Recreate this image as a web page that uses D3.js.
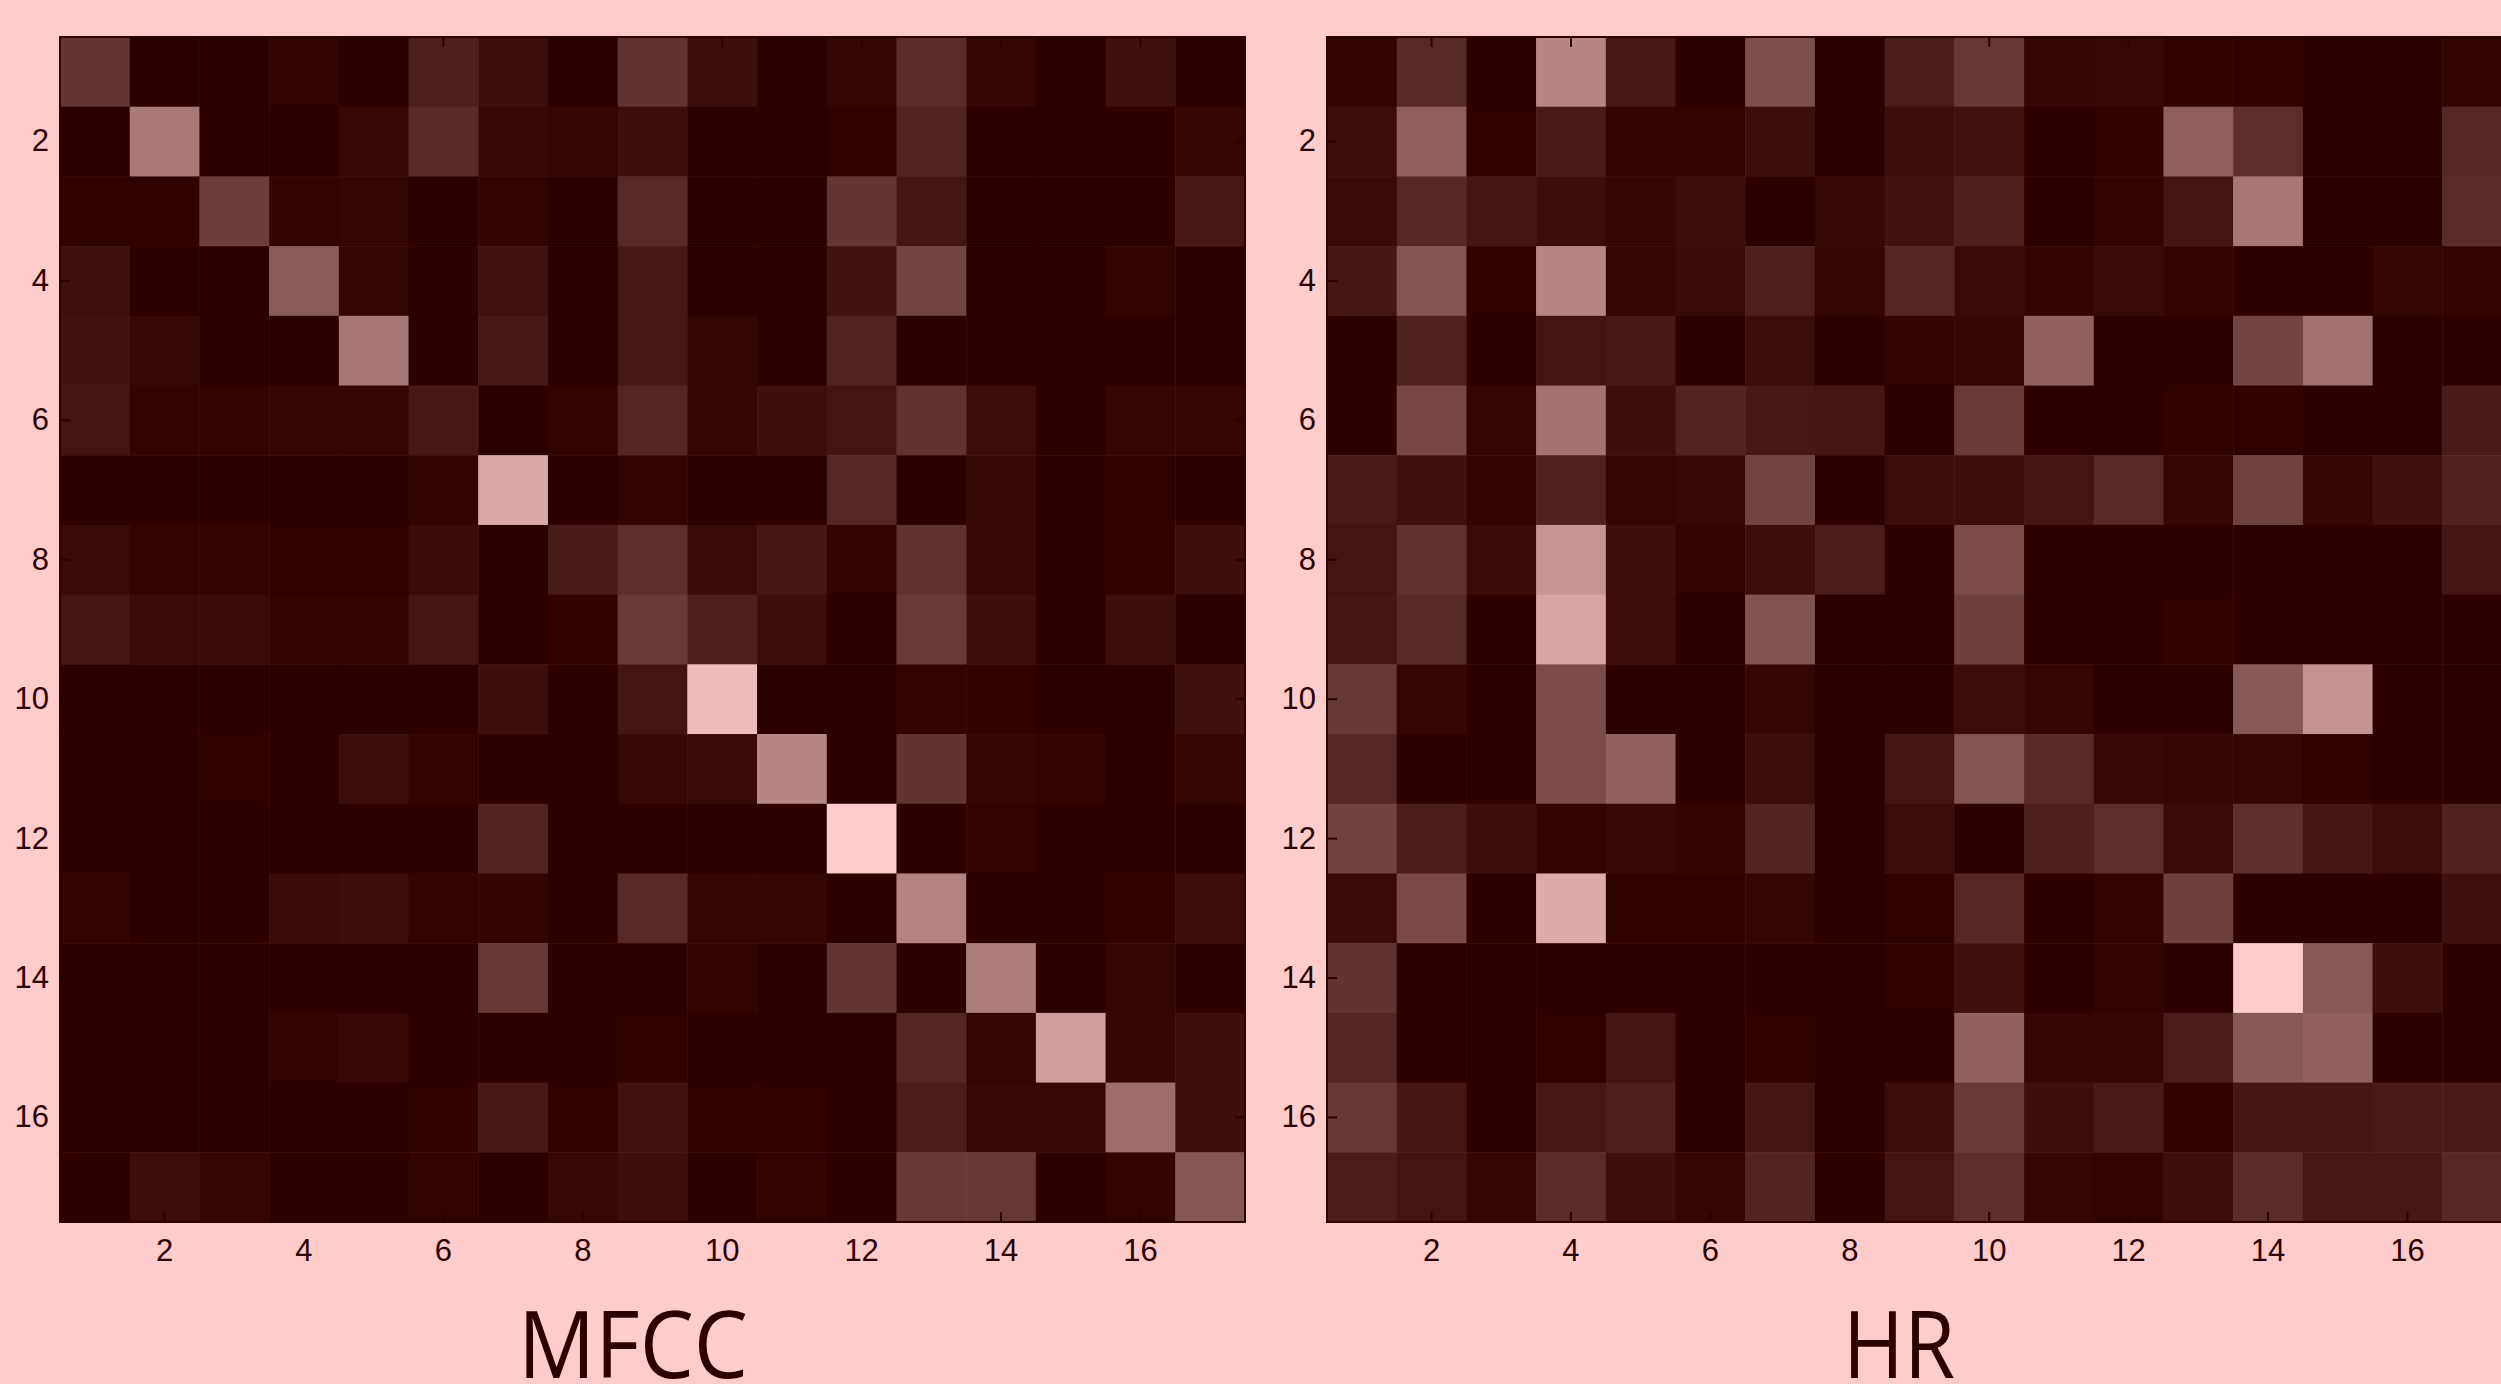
<!DOCTYPE html>
<html>
<head>
<meta charset="utf-8">
<script src="https://cdn.jsdelivr.net/npm/d3@7"></script>
<style>
  html, body { margin: 0; padding: 0; background: #ffcccc; }
  svg { display: block; }
  .tick text { font-family: "Liberation Sans", Arial, sans-serif; font-size: 31px; fill: #2d0000; }
  .tick line { stroke: #2d0000; stroke-width: 2; }
  .title { font-family: "Open Sans", sans-serif; font-size: 94px; fill: #2d0000; }
</style>
</head>
<body>
<svg width="2501" height="1384"></svg>
<script>
// 17 classes, rows = true, columns = predicted (values 0..1)
var labels = d3.range(1, 18);
var tickLabels = [2, 4, 6, 8, 10, 12, 14, 16];

var mfcc = [
  [0.26,0,0,0.02,0,0.15,0.07,0,0.25,0.07,0,0.03,0.21,0.03,0,0.08,0],
  [0,0.59,0,0,0.04,0.20,0.04,0.03,0.07,0,0,0.01,0.17,0,0,0,0.03],
  [0.01,0.01,0.30,0.02,0.03,0,0.02,0,0.20,0,0,0.26,0.11,0,0,0,0.12],
  [0.08,0,0,0.44,0.03,0,0.09,0,0.12,0,0,0.09,0.33,0,0,0.02,0],
  [0.09,0.04,0,0,0.58,0,0.12,0,0.12,0.03,0,0.17,0,0,0,0,0],
  [0.10,0.02,0.02,0.03,0.03,0.12,0,0.02,0.18,0.03,0.07,0.10,0.24,0.06,0,0.03,0.03],
  [0,0,0,0,0,0.02,0.83,0,0.02,0,0,0.19,0,0.04,0,0.01,0],
  [0.05,0.02,0.02,0.01,0.01,0.05,0,0.13,0.22,0.05,0.11,0.02,0.24,0.04,0,0.01,0.07],
  [0.10,0.05,0.05,0.02,0.02,0.11,0,0.01,0.28,0.15,0.07,0,0.28,0.07,0,0.07,0],
  [0,0,0,0,0,0,0.07,0,0.10,0.92,0,0,0.02,0.01,0,0,0.08],
  [0,0,0.01,0,0.07,0.02,0,0,0.04,0.05,0.65,0,0.25,0.03,0.02,0,0.03],
  [0,0,0,0,0,0,0.17,0,0,0,0,1.00,0,0.02,0,0,0],
  [0.02,0,0,0.05,0.06,0.02,0.02,0,0.20,0.03,0.03,0,0.64,0,0,0.01,0.06],
  [0,0,0,0,0,0,0.27,0,0,0.02,0,0.26,0,0.61,0,0.03,0],
  [0,0,0,0.02,0.04,0,0,0,0.01,0,0,0,0.18,0.03,0.77,0.03,0.07],
  [0,0,0,0,0,0.01,0.12,0.01,0.09,0.01,0.01,0,0.14,0.04,0.04,0.54,0.07],
  [0,0.06,0.03,0,0,0.02,0,0.04,0.07,0,0.02,0,0.27,0.27,0,0.02,0.42]
];

var hr = [
  [0.02,0.20,0,0.65,0.12,0,0.38,0,0.14,0.27,0.03,0.04,0.01,0.01,0,0,0.02],
  [0.06,0.46,0.01,0.13,0.02,0.02,0.07,0,0.07,0.09,0,0.01,0.46,0.22,0,0,0.19],
  [0.05,0.19,0.11,0.06,0.03,0.06,0,0.04,0.09,0.15,0,0.02,0.10,0.58,0,0,0.21],
  [0.11,0.41,0.01,0.65,0.03,0.05,0.15,0.03,0.18,0.05,0.02,0.05,0.02,0,0,0.03,0.02],
  [0,0.16,0,0.10,0.12,0,0.06,0,0.02,0.03,0.48,0,0,0.33,0.55,0,0],
  [0,0.35,0.03,0.56,0.07,0.17,0.12,0.11,0,0.28,0,0,0.01,0.01,0,0,0.13],
  [0.13,0.08,0.02,0.16,0.03,0.04,0.33,0,0.06,0.06,0.10,0.20,0.03,0.32,0.03,0.08,0.16],
  [0.10,0.24,0.05,0.73,0.07,0.02,0.07,0.14,0,0.37,0,0,0,0,0,0,0.10],
  [0.11,0.20,0,0.81,0.07,0,0.40,0,0,0.31,0,0,0.01,0,0,0,0],
  [0.27,0.03,0,0.37,0,0,0.03,0,0,0.06,0.03,0,0,0.43,0.72,0,0],
  [0.19,0,0,0.37,0.47,0,0.06,0,0.10,0.41,0.20,0.04,0.03,0.03,0.01,0,0],
  [0.32,0.14,0.07,0.02,0.04,0.02,0.17,0,0.06,0,0.15,0.22,0.05,0.23,0.11,0.06,0.16],
  [0.05,0.36,0,0.84,0.01,0.01,0.03,0,0.01,0.19,0,0.02,0.31,0,0,0,0.08],
  [0.25,0,0,0,0,0,0,0,0.01,0.08,0,0.02,0,1.00,0.43,0.07,0],
  [0.18,0,0,0.01,0.10,0,0.01,0,0,0.48,0.03,0.03,0.14,0.43,0.47,0,0],
  [0.27,0.11,0,0.12,0.15,0,0.11,0,0.06,0.28,0.07,0.13,0.01,0.11,0.11,0.13,0.13],
  [0.14,0.10,0.03,0.21,0.07,0.03,0.17,0,0.10,0.22,0.03,0.02,0.07,0.21,0.12,0.12,0.19]
];

var panels = [
  {name: "MFCC", data: mfcc, left: 60, titleX: 633, titleW: 230},
  {name: "HR", data: hr, left: 1327, titleX: 1899, titleW: 112}
];

var top0 = 37;
var size = 1185;
var tickLen = 10;

var color = d3.scaleLinear().domain([0, 1]).range(["#2d0000", "#ffcccc"]);

var svg = d3.select("svg");

panels.forEach(function(p) {
  var x = d3.scaleBand().domain(labels).range([0, size]);
  var y = d3.scaleBand().domain(labels).range([0, size]);

  var g = svg.append("g").attr("transform", "translate(" + p.left + "," + top0 + ")");

  // cells
  var cells = [];
  p.data.forEach(function(row, i) {
    row.forEach(function(v, j) {
      cells.push({r: labels[i], c: labels[j], v: v});
    });
  });

  g.selectAll("rect.cell")
    .data(cells)
    .enter().append("rect")
      .attr("class", "cell")
      .attr("x", function(d) { return x(d.c); })
      .attr("y", function(d) { return y(d.r); })
      .attr("width", x.bandwidth() + 0.5)
      .attr("height", y.bandwidth() + 0.5)
      .attr("fill", function(d) { return color(d.v); });

  // axes, ticks pointing inward
  g.append("g")
    .attr("transform", "translate(0," + size + ")")
    .call(d3.axisBottom(x).tickValues(tickLabels).tickSizeInner(-tickLen).tickSizeOuter(0).tickPadding(17));
  g.append("g")
    .call(d3.axisLeft(y).tickValues(tickLabels).tickSizeInner(-tickLen).tickSizeOuter(0).tickPadding(11));
  g.append("g")
    .call(d3.axisTop(x).tickValues(tickLabels).tickSizeInner(-tickLen).tickSizeOuter(0).tickFormat(""));
  g.append("g")
    .attr("transform", "translate(" + size + ",0)")
    .call(d3.axisRight(y).tickValues(tickLabels).tickSizeInner(-tickLen).tickSizeOuter(0).tickFormat(""));

  g.selectAll(".domain").remove();

  g.append("rect")
    .attr("width", size)
    .attr("height", size)
    .attr("fill", "none")
    .attr("stroke", "#2d0000")
    .attr("stroke-width", 2);

  // title right at the bottom edge, narrow like the original
  svg.append("text")
    .attr("class", "title")
    .attr("x", p.titleX)
    .attr("y", 1378)
    .attr("text-anchor", "middle")
    .attr("textLength", p.titleW)
    .attr("lengthAdjust", "spacingAndGlyphs")
    .text(p.name);
});
</script>
</body>
</html>
